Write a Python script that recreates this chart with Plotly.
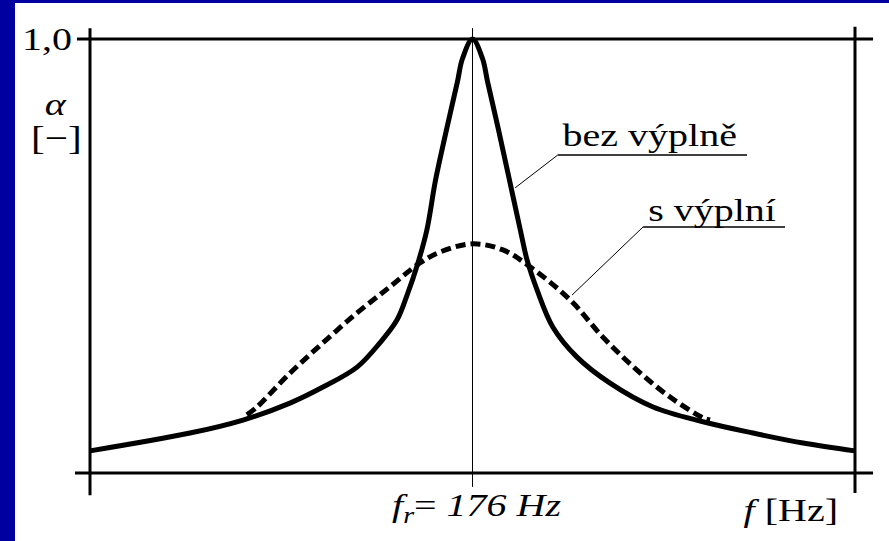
import plotly.graph_objects as go

# Resonance curves of a perforated panel absorber, alpha vs. frequency
f_bez = [0, 46.0, 70.4, 92.0, 107.2, 122.9, 133.4, 141.3, 145.9, 150.9, 155.0,
         159.0, 164.0, 169.0, 171.4, 176.0, 180.6, 183.0, 188.0, 193.0, 198.0,
         201.1, 205.7, 213.0, 224.1, 239.3, 259.1, 282.1, 305.1, 328.1, 352.0]
a_bez = [0.051, 0.092, 0.122, 0.161, 0.198, 0.244, 0.300, 0.353, 0.410, 0.484, 0.560,
         0.675, 0.790, 0.900, 0.955, 1.000, 0.955, 0.900, 0.790, 0.675, 0.560,
         0.491, 0.422, 0.336, 0.267, 0.207, 0.152, 0.118, 0.092, 0.069, 0.051]

f_s = [72.2, 76.8, 92.0, 107.2, 122.9, 138.0, 151.8, 161.0, 176.0, 190.0,
       202.5, 220.9, 236.0, 251.7, 266.9, 282.1, 285.3]
a_s = [0.134, 0.152, 0.230, 0.300, 0.369, 0.429, 0.484, 0.509, 0.528, 0.514,
       0.475, 0.399, 0.313, 0.237, 0.175, 0.127, 0.122]

F_R = 176
F_MAX = 352

W, H = 889, 541
PX_PER_HZ = 765 / F_MAX      # horizontal scale of the frame
PX_PER_UNIT = 434            # vertical scale (alpha 0 -> 1)
X0_PX, Y0_PX = 90, 473       # pixel position of the origin

x_range = [-X0_PX / PX_PER_HZ, (W - X0_PX) / PX_PER_HZ]
y_range = [-(H - Y0_PX) / PX_PER_UNIT, Y0_PX / PX_PER_UNIT]

SERIF = "Liberation Serif"
BLUE = "#0000A0"

fig = go.Figure()

fig.add_trace(go.Scatter(
    x=f_bez, y=a_bez, mode="lines",
    line=dict(color="black", width=5, shape="spline", smoothing=1.0),
    hoverinfo="skip", showlegend=False))
fig.add_trace(go.Scatter(
    x=f_s, y=a_s, mode="lines",
    line=dict(color="black", width=5, dash="10px,5px", shape="spline", smoothing=1.0),
    hoverinfo="skip", showlegend=False))

shapes = [
    # white slide panel
    dict(type="rect", xref="paper", yref="paper", x0=15 / W, x1=1, y0=0, y1=1 - 3 / H,
         fillcolor="white", line=dict(width=0), layer="below"),
    # frame: axes and borders with small overshoots
    dict(type="line", x0=0, x1=0, y0=-0.051, y1=1.025, line=dict(color="black", width=3)),
    dict(type="line", x0=F_MAX, x1=F_MAX, y0=-0.046, y1=1.028, line=dict(color="black", width=3)),
    dict(type="line", x0=-6.0, x1=360.3, y0=1.0, y1=1.0, line=dict(color="black", width=3)),
    dict(type="line", x0=-6.9, x1=360.3, y0=0, y1=0, line=dict(color="black", width=3)),
    # resonance frequency marker
    dict(type="line", x0=F_R, x1=F_R, y0=-0.032, y1=1.025, line=dict(color="black", width=1)),
    # label underlines and leader lines
    dict(type="line", x0=215.3, x1=302.3, y0=0.733, y1=0.733, line=dict(color="black", width=1.5)),
    dict(type="line", x0=215.3, x1=195.6, y0=0.733, y1=0.657, line=dict(color="black", width=1)),
    dict(type="line", x0=254.5, x1=319.8, y0=0.567, y1=0.567, line=dict(color="black", width=1.5)),
    dict(type="line", x0=254.5, x1=221.8, y0=0.567, y1=0.410, line=dict(color="black", width=1)),
]


def label(x, y, text, size=32):
    return dict(x=x, y=y, xref="x", yref="y", text=text, showarrow=False,
                xanchor="center", yanchor="middle",
                font=dict(family=SERIF, size=size, color="black"))


annotations = [
    label(-19.6, 1.0, "1,0"),
    label(-15.6, 0.851, "<i>α</i>"),
    label(-15.6, 0.772, "[−]", size=33),
    label(257.7, 0.779, "bez výplně"),
    label(286.2, 0.606, "s výplní"),
    label(178.1, -0.080, "<i>f</i><sub><i>r</i></sub>= <i>176 Hz</i>"),
    label(322.6, -0.085, "<i>f</i> [Hz]"),
]

fig.update_layout(
    width=W, height=H,
    margin=dict(l=0, r=0, t=0, b=0),
    paper_bgcolor=BLUE,
    plot_bgcolor="rgba(0,0,0,0)",
    xaxis=dict(range=x_range, visible=False, fixedrange=True),
    yaxis=dict(range=y_range, visible=False, fixedrange=True),
    shapes=shapes,
    annotations=annotations,
)

# widen the serif lettering horizontally around each label's centre
stretch_js = """
document.querySelectorAll('.annotation-text').forEach(function(t){
  if (t.getAttribute('data-stretched')) return;
  var b = t.getBBox();
  var cx = b.x + b.width / 2;
  var prev = t.getAttribute('transform') || '';
  t.setAttribute('transform', prev + ' translate(' + cx + ',0) scale(1.25,1) translate(' + (-cx) + ',0)');
  t.setAttribute('data-stretched', '1');
});
"""

fig.write_html("out.html", post_script=stretch_js)
